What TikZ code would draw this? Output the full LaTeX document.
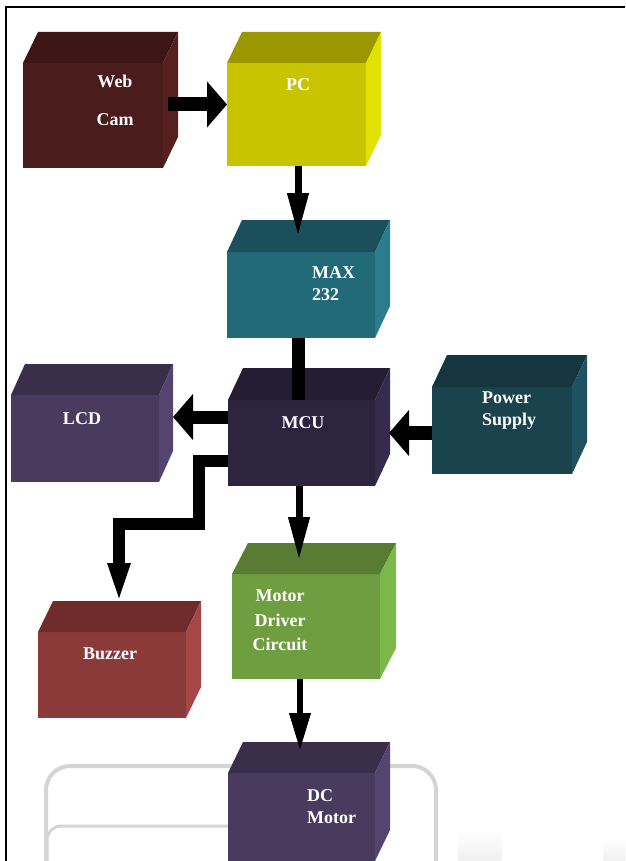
\documentclass[tikz,border=0pt]{standalone}
\usepackage{fontspec}
\setmainfont{Liberation Serif}
\usetikzlibrary{arrows.meta}
\definecolor{wcF}{HTML}{4A1C1C}\definecolor{wcT}{HTML}{3D1616}\definecolor{wcS}{HTML}{55201F}
\definecolor{pcF}{HTML}{C8C400}\definecolor{pcT}{HTML}{9A9700}\definecolor{pcS}{HTML}{E2E200}
\definecolor{mxF}{HTML}{236A78}\definecolor{mxT}{HTML}{1C4F5C}\definecolor{mxS}{HTML}{2B7C8C}
\definecolor{mcF}{HTML}{2D2540}\definecolor{mcT}{HTML}{241D33}\definecolor{mcS}{HTML}{362B4C}
\definecolor{lcF}{HTML}{4A3A5E}\definecolor{lcT}{HTML}{3B2E4A}\definecolor{lcS}{HTML}{554370}
\definecolor{psF}{HTML}{1A434D}\definecolor{psT}{HTML}{15363F}\definecolor{psS}{HTML}{1E525E}
\definecolor{bzF}{HTML}{8B3A3A}\definecolor{bzT}{HTML}{702C2C}\definecolor{bzS}{HTML}{A64646}
\definecolor{mdF}{HTML}{6E9E40}\definecolor{mdT}{HTML}{587C32}\definecolor{mdS}{HTML}{7DB84A}
\definecolor{ghost}{HTML}{D4D4D4}
\newcommand\cubefaces[4]{%
  \fill[#3] (#1.north west) -- ++#2 -- ([shift={#2}]#1.north east) -- (#1.north east) -- cycle;
  \fill[#4] (#1.north east) -- ++#2 -- ([shift={#2}]#1.south east) -- (#1.south east) -- cycle;}
\tikzset{
  front/.style={anchor=north west, inner sep=0pt, outer sep=0pt, draw=none},
  lbl/.style={text=white, inner sep=0pt, font=\fontsize{18}{22}\selectfont\bfseries},
  bigarrow/.style={line width=14pt, -{Triangle[width=45pt,length=20pt]}},
  downarrow/.style={line width=7pt, -{Triangle[width=20pt,length=43pt]}},
  thickline/.style={line width=12pt},
}
\begin{document}
\begin{tikzpicture}[x=1pt,y=-1pt]
\useasboundingbox (0,0) rectangle (625,861);
\fill[white] (0,0) rectangle (625,861);
% faint background artefacts
\begin{scope}
\clip (0,0) rectangle (625,861);
\draw[ghost, line width=4pt, rounded corners=24pt] (46,900) -- (46,766) -- (436,766) -- (436,900);
\draw[ghost, line width=3pt, rounded corners=14pt] (47,870) -- (47,826) -- (240,826);
\shade[top color=white, bottom color=gray!12] (458,830) rectangle (502,861);
\shade[top color=white, bottom color=gray!12] (603,838) rectangle (625,861);
\end{scope}
% frame
\draw[line width=2pt] (6,861) -- (6,7) -- (625,7);
% boxes
\node[front, fill=wcF, minimum width=140pt, minimum height=105pt] (webcam) at (23,63) {};
\cubefaces{webcam}{(15,-31)}{wcT}{wcS}
\node[front, fill=pcF, minimum width=139pt, minimum height=103pt] (pc) at (227,63) {};
\cubefaces{pc}{(15,-31)}{pcT}{pcS}
\node[front, fill=mxF, minimum width=148pt, minimum height=86pt] (max) at (227,252) {};
\cubefaces{max}{(15,-32)}{mxT}{mxS}
\node[front, fill=mcF, minimum width=147pt, minimum height=86pt] (mcu) at (228,400) {};
\cubefaces{mcu}{(15,-32)}{mcT}{mcS}
\node[front, fill=lcF, minimum width=148pt, minimum height=87pt] (lcd) at (11,395) {};
\cubefaces{lcd}{(14,-31)}{lcT}{lcS}
\node[front, fill=psF, minimum width=140pt, minimum height=87pt] (ps) at (432,387) {};
\cubefaces{ps}{(15,-32)}{psT}{psS}
\node[front, fill=bzF, minimum width=148pt, minimum height=86pt] (buzzer) at (38,632) {};
\cubefaces{buzzer}{(15,-31)}{bzT}{bzS}
\node[front, fill=mdF, minimum width=148pt, minimum height=105pt] (md) at (232,574) {};
\cubefaces{md}{(16,-31)}{mdT}{mdS}
\node[front, fill=lcF, minimum width=147pt, minimum height=88pt] (dc) at (228,773) {};
\cubefaces{dc}{(15,-31)}{lcT}{lcS}
% labels
\node[lbl, anchor=north, align=center, font=\fontsize{18}{38}\selectfont\bfseries] (webcamtxt) at (115,75) {Web\\Cam};
\node[lbl, anchor=north] (pctxt) at (298,78) {PC};
\node[lbl, anchor=north west, align=left] (maxtxt) at (312,266) {MAX\\232};
\node[lbl, anchor=north] (mcutxt) at (303,416) {MCU};
\node[lbl, anchor=north] (lcdtxt) at (82,412) {LCD};
\node[lbl, anchor=north west, align=left] (pstxt) at (482,392) {Power\\Supply};
\node[lbl, anchor=north] (bztxt) at (110,648) {Buzzer};
\node[lbl, anchor=north, align=center, font=\fontsize{18}{24.5}\selectfont\bfseries] (mdtxt) at (280,590) {Motor\\Driver\\Circuit};
\node[lbl, anchor=north west, align=left] (dctxt) at (307,789) {DC\\Motor};
% connectors
\draw[bigarrow] ([xshift=5pt,yshift=11pt]webcam.east) -- ([yshift=11pt]webcam.east -| pc.west);
\coordinate (pcout) at ([xshift=1.5pt]pc.south);
\coordinate (maxin) at ([yshift=16pt]max.north);
\draw[downarrow] (pcout) -- (pcout |- maxin);
\draw[line width=13pt] ([xshift=-2.5pt]max.south) -- ([xshift=-3pt]mcu.north);
\draw[bigarrow, line width=13pt] ([yshift=26pt]mcu.west) -- ([xshift=14pt,yshift=26pt]mcu.west -| lcd.east);
\draw[bigarrow] ([yshift=-2.5pt]ps.west) -- ([xshift=14pt,yshift=-2.5pt]ps.west -| mcu.east);
\coordinate (bend) at (199,524);
\draw[thickline, -{Triangle[width=19pt,length=45pt]}] ([yshift=-18pt]mcu.west) -| (bend) -| ([xshift=7pt,yshift=24pt]buzzer.north);
\draw[downarrow] ([xshift=-2.5pt]mcu.south) -- ([xshift=-7pt,yshift=14pt]md.north);
\draw[downarrow, line width=6.5pt, -{Triangle[width=20pt,length=38pt]}] ([xshift=-6pt]md.south) -- ([xshift=-1.5pt,yshift=22pt]dc.north);
\end{tikzpicture}
\end{document}
